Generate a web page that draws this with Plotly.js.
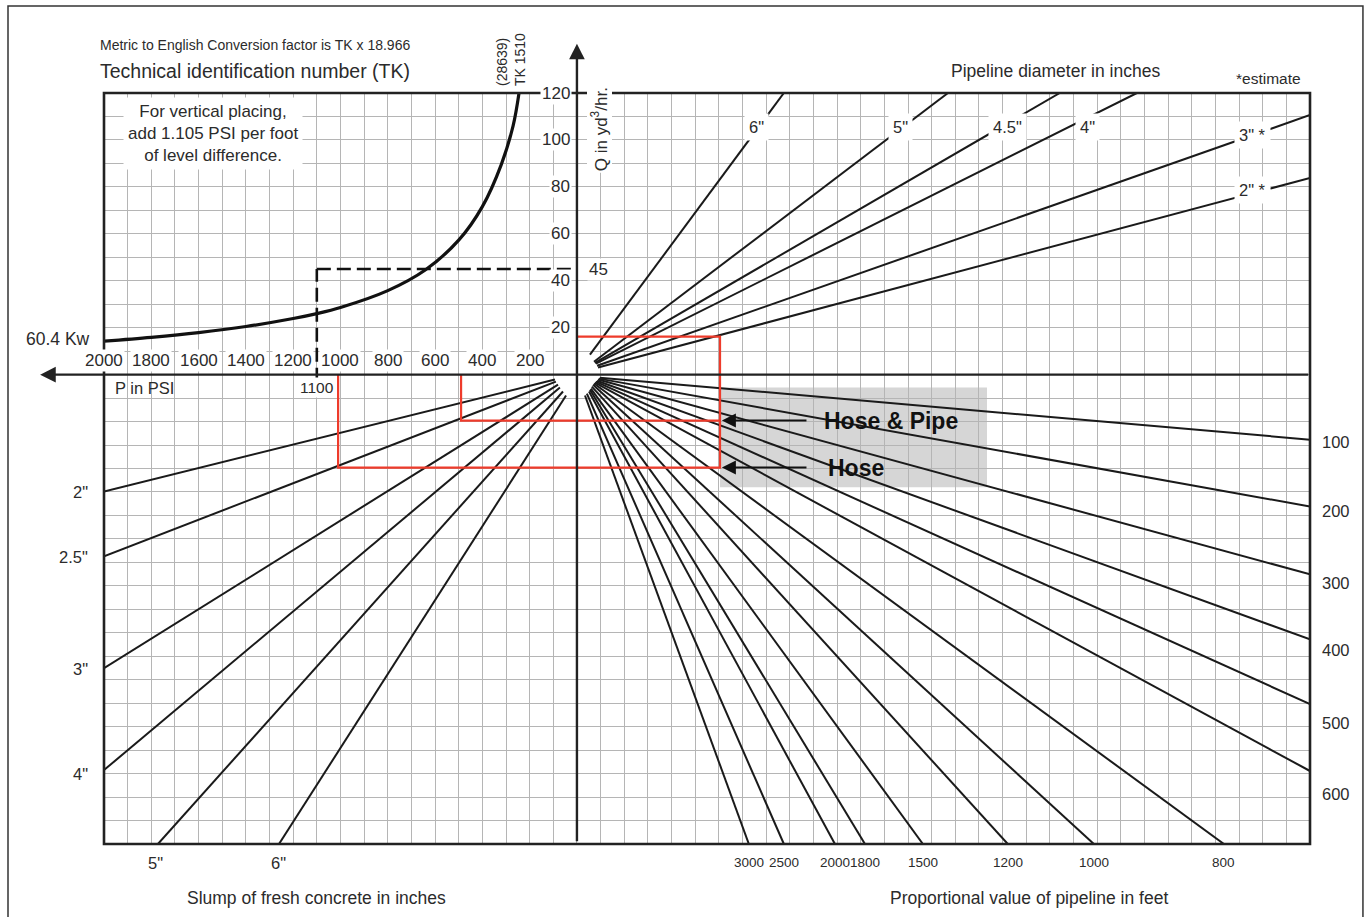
<!DOCTYPE html>
<html><head><meta charset="utf-8">
<script src="https://cdn.plot.ly/plotly-3.0.1.min.js"></script>
<style>html,body{margin:0;padding:0;background:#fff;}</style>
</head><body>
<div id="chart" style="width:1368px;height:917px;"></div>
<script>
// ---------- data ----------
const pTicks = [2000, 1800, 1600, 1400, 1200, 1000, 800, 600, 400, 200];
const qTicks = [20, 40, 60, 80, 100, 120];

// TK 1510 power curve (P in PSI, Q in yd3/hr)
const tkCurveP = [2000, 1800, 1600, 1400, 1200, 1100, 1000, 800, 640, 500, 400, 320, 270, 245];
const tkCurveQ = [14.3, 15.9, 17.9, 20.5, 23.9, 26.0, 28.6, 35.8, 44.7, 57.3, 71.6, 89.5, 106, 120];

// worked example (dashed)
const exampleP = 1100;
const exampleQ = 45;

// pipeline diameter lines (upper right)
const diamLabels = ['6"', '5"', '4.5"', '4"', '3" *', '2" *'];
const diamStartX = [55, 72, 76, 80, 85, 89];
const diamStartY = [8.5, 5.5, 5.0, 4.7, 3.8, 3.0];
const diamEndX = [875, 1569, 2042, 2368, 3100, 3100];
const diamEndY = [120, 120, 120, 120, 110.6, 83.8];
const diamLabelX = [761, 1370, 1822, 2160, 2858, 2858];
const diamLabelY = [105.5, 105.5, 105.5, 105.5, 102.1, 78.7];

// slump lines (lower left)
const slumpLabels = ['2"', '2.5"', '3"', '4"', '5"', '6"'];
const slumpStartX = [-93, -89, -80, -72, -59, -46];
const slumpStartY = [-2.1, -3.0, -4.3, -5.5, -7.2, -8.9];
const slumpEndX = [-2000, -2000, -2000, -2000, -1772, -1260];
const slumpEndY = [-49.8, -77.4, -125.1, -168.5, -200, -200];
const slumpLabelX = [-2000, -2000, -2000, -2000, -1784, -1264];
const slumpLabelY = [-49.8, -77.9, -125.5, -170.2, -200, -200];

// proportional pipeline length lines (lower right)
const lengthLabels = ['100', '200', '300', '400', '500', '600', '800', '1000', '1200', '1500', '1800', '2000', '2500', '3000'];
const lengthStartX = [97, 93, 89, 85, 80, 76, 72, 68, 63, 59, 55, 51, 42, 34];
const lengthStartY = [-1.3, -1.7, -2.1, -2.6, -3.0, -3.4, -3.8, -4.3, -5.1, -6.0, -6.4, -7.2, -8.1, -8.9];
const lengthEndX = [3100, 3100, 3100, 3100, 3100, 3100, 2736, 2186, 1822, 1463, 1218, 1091, 875, 727];
const lengthEndY = [-27.7, -56.2, -85.1, -112.8, -140.4, -168.9, -200, -200, -200, -200, -200, -200, -200, -200];
const lengthLabelY = [-28.5, -58.3, -88.9, -117.4, -148.5, -178.7, -200, -200, -200, -200, -200, -200, -200, -200];

// red reading frame + grey highlight
const hoseP = 1010;
const hosePipeP = 490;
const readQ = 16.2;
const readRightX = 605;
const hoseY = -39.6;
const hosePipeY = -19.6;
const shadeX = [605, 1734];
const shadeY = [-48, -5.5];
const calloutTailX = 977;

// ---------- build ----------
const FONT = 'Liberation Sans, Arial, sans-serif';
const TXT = '#2b2b2b';

function segs(x0, y0, x1, y1) {
  const xs = [], ys = [];
  for (let i = 0; i < x0.length; i++) { xs.push(x0[i], x1[i], null); ys.push(y0[i], y1[i], null); }
  return {xs, ys};
}
const base = {type: 'scatter', mode: 'lines', hoverinfo: 'skip', showlegend: false};
const d = segs(diamStartX, diamStartY, diamEndX, diamEndY);
const s = segs(slumpStartX, slumpStartY, slumpEndX, slumpEndY);
const l = segs(lengthStartX, lengthStartY, lengthEndX, lengthEndY);

const traces = [
  Object.assign({}, base, {x: d.xs, y: d.ys, line: {color: '#1a1a1a', width: 2}}),
  Object.assign({}, base, {x: s.xs, y: s.ys, line: {color: '#1a1a1a', width: 2}}),
  Object.assign({}, base, {x: l.xs, y: l.ys, line: {color: '#1a1a1a', width: 2}}),
  Object.assign({}, base, {x: tkCurveP.map(p => -p), y: tkCurveQ, line: {color: '#111', width: 3.2, shape: 'spline'}}),
  Object.assign({}, base, {x: [-exampleP, -exampleP, null, -exampleP, 0], y: [-3, exampleQ, null, exampleQ, exampleQ],
    line: {color: '#111', width: 2.6, dash: '14px,6px'}}),
  Object.assign({}, base, {x: [-hoseP, -hoseP, readRightX, readRightX, 0], y: [0, hoseY, hoseY, readQ, readQ],
    line: {color: '#ee3b2b', width: 2.2}}),
  Object.assign({}, base, {x: [-hosePipeP, -hosePipeP, readRightX], y: [0, hosePipeY, hosePipeY],
    line: {color: '#ee3b2b', width: 2.2}})
];

const ann = [];
function A(o, size) {
  ann.push(Object.assign({showarrow: false, xanchor: 'center', yanchor: 'middle',
    font: {family: FONT, size: size || 17, color: TXT}}, o));
}

// Q axis tick labels
qTicks.forEach(q => A({x: 0, y: q, xref: 'x', yref: 'y', text: String(q), xanchor: 'right', xshift: -5, bgcolor: '#fff', borderpad: 1}));
A({x: 0, y: exampleQ, xref: 'x', yref: 'y', text: String(exampleQ), xanchor: 'left', xshift: 10, bgcolor: '#fff'});
// P axis tick labels
pTicks.forEach(p => A({x: -p, y: 0, xref: 'x', yref: 'y', text: String(p), yanchor: 'bottom', yshift: 3, bgcolor: '#fff', borderpad: 1}));
A({x: -1962, y: -5.5, xref: 'x', yref: 'y', text: 'P in PSI', xanchor: 'left'}, 16.5);
A({x: -exampleP, y: -5.5, xref: 'x', yref: 'y', text: String(exampleP), bgcolor: '#fff'}, 15.5);
A({x: -2000, y: tkCurveQ[0] + 1, xref: 'x', yref: 'y', text: '60.4 Kw', xanchor: 'right', xshift: -12}, 17.5);

// diameter labels
diamLabels.forEach((t, i) => A({x: diamLabelX[i], y: diamLabelY[i], xref: 'x', yref: 'y', text: t, bgcolor: '#fff', borderpad: 4}, 16.5));
// slump labels
slumpLabels.forEach((t, i) => {
  if (slumpLabelX[i] === -2000) A({x: -2000, y: slumpLabelY[i], xref: 'x', yref: 'y', text: t, xanchor: 'right', xshift: -14}, 16.5);
  else A({x: slumpLabelX[i], y: -200, xref: 'x', yref: 'y', text: t, yanchor: 'top', yshift: -8}, 16.5);
});
// length labels
lengthLabels.forEach((t, i) => {
  if (lengthEndX[i] === 3100) A({x: 3100, y: lengthLabelY[i], xref: 'x', yref: 'y', text: t, xanchor: 'left', xshift: 10}, 16.5);
  else A({x: lengthEndX[i], y: -200, xref: 'x', yref: 'y', text: t, yanchor: 'top', yshift: -9}, 13.5);
});

// axis titles & notes
A({x: 97, y: 104.5, xref: 'x', yref: 'y', text: 'Q in yd<sup>3</sup>/hr.', textangle: -90, bgcolor: '#fff'}, 17);
A({x: 0.3375, y: 1.006, xref: 'paper', yref: 'paper', text: '(28639)<br>TK 1510', textangle: -90, align: 'left', yanchor: 'bottom'}, 14);
A({x: -0.005, y: 1.064, xref: 'paper', yref: 'paper', text: 'Metric to English Conversion factor is TK x 18.966', xanchor: 'left'}, 14);
A({x: -0.005, y: 1.0293, xref: 'paper', yref: 'paper', text: 'Technical identification number (TK)', xanchor: 'left'}, 19.5);
A({x: 0.0904, y: 0.9467, xref: 'paper', yref: 'paper', text: 'For vertical placing,<br>add 1.105 PSI per foot<br>of level difference.', bgcolor: '#fff', borderpad: 4}, 17);
A({x: 0.7886, y: 1.029, xref: 'paper', yref: 'paper', text: 'Pipeline diameter in inches'}, 17.5);
A({x: 0.9652, y: 1.0199, xref: 'paper', yref: 'paper', text: '*estimate'}, 15.5);
A({x: 0.1758, y: -0.072, xref: 'paper', yref: 'paper', text: 'Slump of fresh concrete in inches'}, 17.5);
A({x: 0.767, y: -0.072, xref: 'paper', yref: 'paper', text: 'Proportional value of pipeline in feet'}, 17.5);

// call-outs
A({x: 1036, y: hosePipeY, xref: 'x', yref: 'y', text: '<b>Hose &amp; Pipe</b>', xanchor: 'left', font: {family: FONT, size: 23, color: '#111'}});
A({x: 1053, y: hoseY, xref: 'x', yref: 'y', text: '<b>Hose</b>', xanchor: 'left', font: {family: FONT, size: 23, color: '#111'}});
[hosePipeY, hoseY].forEach(yy => ann.push({x: readRightX + 8, y: yy, ax: calloutTailX, ay: yy, xref: 'x', yref: 'y', axref: 'x', ayref: 'y',
  text: '', showarrow: true, arrowhead: 2, arrowsize: 1.4, arrowwidth: 2, arrowcolor: '#111', standoff: 0}));

// main axes with arrows
ann.push({x: 0, y: 141, ax: 0, ay: -199.5, xref: 'x', yref: 'y', axref: 'x', ayref: 'y', text: '', showarrow: true,
  arrowhead: 2, arrowsize: 1.3, arrowwidth: 2.4, arrowcolor: '#222', standoff: 0});
ann.push({x: -2270, y: 0, ax: 3099, ay: 0, xref: 'x', yref: 'y', axref: 'x', ayref: 'y', text: '', showarrow: true,
  arrowhead: 2, arrowsize: 1.3, arrowwidth: 2.4, arrowcolor: '#222', standoff: 0});

const shapes = [
  {type: 'rect', xref: 'x', yref: 'y', x0: shadeX[0], x1: shadeX[1], y0: shadeY[0], y1: shadeY[1], fillcolor: '#d6d6d6', line: {width: 0}, layer: 'below'},
  {type: 'rect', xref: 'paper', yref: 'paper', x0: 0, x1: 1, y0: 0, y1: 1, line: {color: '#222', width: 2.6}, layer: 'above'},
  {type: 'rect', xref: 'paper', yref: 'paper', x0: -0.0796, x1: 1.0439, y0: -0.12, y1: 1.1158, line: {color: '#333', width: 1.5}, layer: 'above'}
];

const layout = {
  width: 1368, height: 917,
  margin: {l: 104, r: 58, t: 93, b: 73, pad: 0},
  paper_bgcolor: '#fff', plot_bgcolor: '#fff',
  showlegend: false,
  xaxis: {range: [-2000, 3100], dtick: 100, tick0: 0, showgrid: true, gridcolor: '#b5b5b5', gridwidth: 1,
    zeroline: false, showticklabels: false, ticks: '', showline: false, fixedrange: true},
  yaxis: {range: [-200, 120], dtick: 10, tick0: 0, showgrid: true, gridcolor: '#b5b5b5', gridwidth: 1,
    zeroline: false, showticklabels: false, ticks: '', showline: false, fixedrange: true},
  annotations: ann,
  shapes: shapes
};

Plotly.newPlot('chart', traces, layout, {displayModeBar: false, staticPlot: true});
</script>
</body></html>
